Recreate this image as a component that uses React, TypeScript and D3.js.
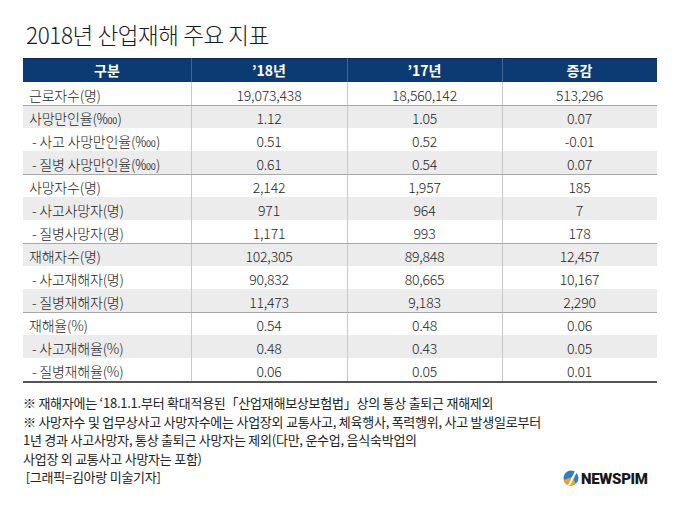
import React, { useEffect, useRef } from 'react';
import * as d3 from 'd3';

const title = '2018년 산업재해 주요 지표';
const headers = ['구분', '’18년', '’17년', '증감'];
const labels = [
  '근로자수(명)',
  '사망만인율(‱)',
  ' - 사고 사망만인율(‱)',
  ' - 질병 사망만인율(‱)',
  '사망자수(명)',
  ' - 사고사망자(명)',
  ' - 질병사망자(명)',
  '재해자수(명)',
  ' - 사고재해자(명)',
  ' - 질병재해자(명)',
  '재해율(%)',
  ' - 사고재해율(%)',
  ' - 질병재해율(%)',
];
const values18 = ['19,073,438', '1.12', '0.51', '0.61', '2,142', '971', '1,171', '102,305', '90,832', '11,473', '0.54', '0.48', '0.06'];
const values17 = ['18,560,142', '1.05', '0.52', '0.54', '1,957', '964', '993', '89,848', '80,665', '9,183', '0.48', '0.43', '0.05'];
const changes = ['513,296', '0.07', '-0.01', '0.07', '185', '7', '178', '12,457', '10,167', '2,290', '0.06', '0.05', '0.01'];
// index of last row in each group
const groupEnds = [0, 3, 6, 9];
const notes = [
  '※ 재해자에는 ‘18.1.1.부터 확대적용된「산업재해보상보험법」상의 통상 출퇴근 재해제외',
  '※ 사망자수 및 업무상사고 사망자수에는 사업장외 교통사고, 체육행사, 폭력행위, 사고 발생일로부터',
  '1년 경과 사고사망자, 통상 출퇴근 사망자는 제외(다만, 운수업, 음식숙박업의',
  '사업장 외 교통사고 사망자는 포함)',
  ' [그래픽=김아랑 미술기자]',
];

function App() {
  const ref = useRef<SVGSVGElement>(null);
  const width = 680;
  const height = 510;
  const font = '"Noto Sans CJK KR", "Noto Sans", sans-serif';

  useEffect(() => {
    const svg = d3.select(ref.current);
    svg.selectAll('*').remove();

    svg.append('rect').attr('width', width).attr('height', height).attr('fill', '#fff');

    svg.append('text')
      .attr('x', 26)
      .attr('y', 44)
      .style('font-family', font)
      .style('font-size', '22.5px')
      .style('font-weight', 300)
      .style('fill', '#1a1a1a')
      .style('letter-spacing', '-0.4px')
      .text(title);

    const left = 23;
    const right = 657;
    const colEdges = [left, 191, 347, 502, right];
    const x = (i: number) => colEdges[i];
    const headTop = 58;
    const headH = 24;
    const rows = d3.range(labels.length);
    const y = d3.scaleBand<number>().domain(rows).range([headTop + headH, headTop + headH + 23 * labels.length]);

    // header
    svg.append('rect')
      .attr('x', left).attr('y', headTop)
      .attr('width', right - left).attr('height', headH)
      .attr('fill', '#0c3a72');
    svg.append('line')
      .attr('x1', left).attr('x2', right).attr('y1', headTop + 0.5).attr('y2', headTop + 0.5)
      .attr('stroke', '#08284f').attr('stroke-width', 1);
    headers.forEach((h, i) => {
      svg.append('text')
        .attr('x', (x(i) + x(i + 1)) / 2)
        .attr('y', headTop + headH / 2)
        .attr('text-anchor', 'middle')
        .attr('dominant-baseline', 'central')
        .style('font-family', font)
        .style('font-size', '14px')
        .style('font-weight', 700)
        .style('fill', '#fff')
        .text(h);
    });

    // row backgrounds
    svg.append('g').selectAll('rect')
      .data(rows)
      .join('rect')
      .attr('x', left)
      .attr('y', (d) => y(d)!)
      .attr('width', right - left)
      .attr('height', y.bandwidth())
      .attr('fill', (d) => (d % 2 === 1 ? '#ececec' : '#fff'));

    // vertical lines
    [1, 2, 3].forEach((i) => {
      svg.append('line')
        .attr('x1', x(i) + 0.5).attr('x2', x(i) + 0.5)
        .attr('y1', headTop).attr('y2', y.range()[1])
        .attr('stroke', '#c8c8c8');
      svg.append('line')
        .attr('x1', x(i) + 0.5).attr('x2', x(i) + 0.5)
        .attr('y1', headTop).attr('y2', headTop + headH)
        .attr('stroke', '#3d6596');
    });

    // group separators
    groupEnds.forEach((r) => {
      const yy = y(r)! + y.bandwidth();
      svg.append('line')
        .attr('x1', left).attr('x2', right)
        .attr('y1', yy + 0.5).attr('y2', yy + 0.5)
        .attr('stroke', '#a8a8a8');
    });
    svg.append('line')
      .attr('x1', left).attr('x2', right)
      .attr('y1', y.range()[1] + 1).attr('y2', y.range()[1] + 1)
      .attr('stroke', '#555').attr('stroke-width', 2);

    const cols = [labels, values18, values17, changes];
    cols.forEach((col, ci) => {
      svg.append('g').selectAll('text')
        .data(col)
        .join('text')
        .attr('x', ci === 0 ? left + 6 : (x(ci) + x(ci + 1)) / 2)
        .attr('y', (_, i) => y(i)! + y.bandwidth() / 2 + 1)
        .attr('text-anchor', ci === 0 ? 'start' : 'middle')
        .attr('dominant-baseline', 'central')
        .style('font-family', font)
        .style('font-size', '14px')
        .style('font-weight', 300)
        .style('fill', '#1e1e1e')
        .style('letter-spacing', '-0.2px')
        .style('white-space', 'pre')
        .text((d) => d);
    });

    // notes
    svg.append('g').selectAll('text')
      .data(notes)
      .join('text')
      .attr('x', 23)
      .attr('y', (_, i) => 408 + i * 18.5)
      .style('font-family', font)
      .style('font-size', '13px')
      .style('font-weight', 400)
      .style('fill', '#222')
      .style('letter-spacing', '-0.25px')
      .style('white-space', 'pre')
      .text((d) => d);

    // logo
    const logo = svg.append('g').attr('transform', 'translate(571,478)');
    logo.append('circle').attr('r', 7.5).attr('fill', '#2f7fc6');
    logo.append('path')
      .attr('d', 'M-7.5,2 A7.5,7.5 0 0 0 5,5.6 L1,-1 Z')
      .attr('fill', '#f2a024');
    logo.append('path')
      .attr('d', 'M-3,7 L4,-7 L6,-6 L-1,7.4 Z')
      .attr('fill', '#fff');
    svg.append('text')
      .attr('x', 581)
      .attr('y', 484)
      .style('font-family', 'Roboto, "Liberation Sans", sans-serif')
      .style('font-size', '15px')
      .style('font-weight', 900)
      .style('fill', '#1a1a1a')
      .style('letter-spacing', '-0.3px')
      .text('NEWSPIM');
  }, []);

  return (
    <svg ref={ref} width={width} height={height} style={{ display: 'block', margin: '-8px' }}></svg>
  );
}

export default App;
